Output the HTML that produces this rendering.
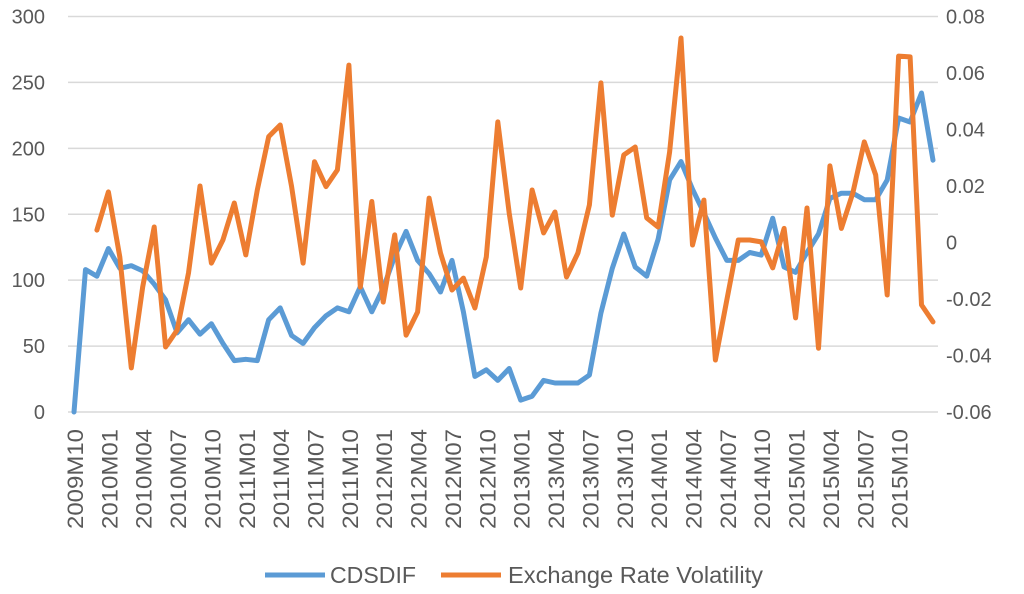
<!DOCTYPE html>
<html><head><meta charset="utf-8"><style>
html,body{margin:0;padding:0;background:#fff;}
svg{display:block;font-family:"Liberation Sans",sans-serif;}
</style></head><body>
<svg id="chart" width="1024" height="594" viewBox="0 0 1024 594">
<g id="grid"></g>
<g id="yl"></g>
<g id="yr"></g>
<g id="xl"></g>
<g id="series"></g>
<g>
<line x1="265" y1="575" x2="325" y2="575" stroke="#5B9BD5" stroke-width="5"/>
<text x="330" y="583" font-size="23" fill="#595959" textLength="86" lengthAdjust="spacingAndGlyphs">CDSDIF</text>
<line x1="441" y1="575" x2="501" y2="575" stroke="#ED7D31" stroke-width="5"/>
<text x="508" y="583" font-size="23" fill="#595959" textLength="255" lengthAdjust="spacingAndGlyphs">Exchange Rate Volatility</text>
</g>
</svg>
<script>
const cdsdif = [0,108,103,124,109,111,107,97,85,60,70,59,67,52,39,40,39,70,79,58,52,64,73,79,76,95,76,94,118,137,115,105,91,115,76,27,32,24,33,9,12,24,22,22,22,28,75,109,135,110,103,131,176,190,169,151,132,115,115,121,119,147,110,106,121,135,162,166,166,161,161,176,223,220,242,191];
const volatility = [null,null,0.0044,0.0179,-0.0051,-0.0444,-0.0157,0.0055,-0.037,-0.031,-0.0108,0.020,-0.0073,0.0009,0.014,-0.0044,0.0186,0.0375,0.0416,0.0198,-0.0073,0.0286,0.0198,0.0257,0.0628,-0.0158,0.0145,-0.0211,0.0027,-0.0328,-0.0246,0.0157,-0.0037,-0.0168,-0.0126,-0.0232,-0.0051,0.0427,0.0104,-0.0161,0.0186,0.0034,0.0108,-0.0122,-0.0037,0.0133,0.0565,0.0097,0.031,0.0338,0.0087,0.0055,0.032,0.0724,-0.0009,0.015,-0.0416,-0.0204,0.0009,0.0009,0.0002,-0.009,0.005,-0.0267,0.0122,-0.0374,0.0271,0.005,0.0175,0.0356,0.0239,-0.0186,0.066,0.0657,-0.0221,-0.0281];
const leftTicks = [0,50,100,150,200,250,300];
const rightTicks = ["-0.06","-0.04","-0.02","0","0.02","0.04","0.06","0.08"];
const xLabels = ["2009M10","2010M01","2010M04","2010M07","2010M10","2011M01","2011M04","2011M07","2011M10","2012M01","2012M04","2012M07","2012M10","2013M01","2013M04","2013M07","2013M10","2014M01","2014M04","2014M07","2014M10","2015M01","2015M04","2015M07","2015M10"];

const NS="http://www.w3.org/2000/svg";
const x0=74, x1=933, yTop=16.5, yBot=412;
const n=cdsdif.length;
const xs=i=>x0+(x1-x0)*i/(n-1);
const yL=v=>yBot-(v-0)/(300-0)*(yBot-yTop);
const yR=v=>yBot-(v+0.06)/(0.14)*(yBot-yTop);
function mk(tag,attrs,parent,txt){const e=document.createElementNS(NS,tag);for(const k in attrs)e.setAttribute(k,attrs[k]);if(txt!==undefined)e.textContent=txt;parent.appendChild(e);return e;}
const grid=document.getElementById('grid'),yl=document.getElementById('yl'),yr=document.getElementById('yr'),xl=document.getElementById('xl'),ser=document.getElementById('series');
leftTicks.forEach(t=>{
  const y=yL(t);
  const g=mk('line',{x1:68,x2:938,y1:y,y2:y,stroke:'#d9d9d9','stroke-width':1.5},grid);
  
  
  const l=mk('text',{x:45,y:y+7,'text-anchor':'end','font-size':20,fill:'#595959'},yl,String(t));
  
  
});
rightTicks.forEach(t=>{
  const y=yR(parseFloat(t));
  const l=mk('text',{x:946,y:y+7,'font-size':20,fill:'#595959'},yr,t);
  
  
});
xLabels.forEach((t,k)=>{
  const x=xs(k*3)+9;
  const l=mk('text',{x:0,y:0,'text-anchor':'end','font-size':22,fill:'#595959',textLength:100,lengthAdjust:'spacingAndGlyphs',transform:`translate(${x},429) rotate(-90)`},xl,t);
  
  
});
function path(arr,yf){let d='',pen=false;arr.forEach((v,i)=>{if(v===null){pen=false;return;}d+=(pen?'L':'M')+xs(i).toFixed(1)+','+yf(v).toFixed(1);pen=true;});return d;}
const p1=mk('path',{d:path(cdsdif,yL),fill:'none',stroke:'#5B9BD5','stroke-width':5,'stroke-linejoin':'round','stroke-linecap':'round'},ser);


const p2=mk('path',{d:path(volatility,yR),fill:'none',stroke:'#ED7D31','stroke-width':5,'stroke-linejoin':'round','stroke-linecap':'round'},ser);


</script>
</body></html>
